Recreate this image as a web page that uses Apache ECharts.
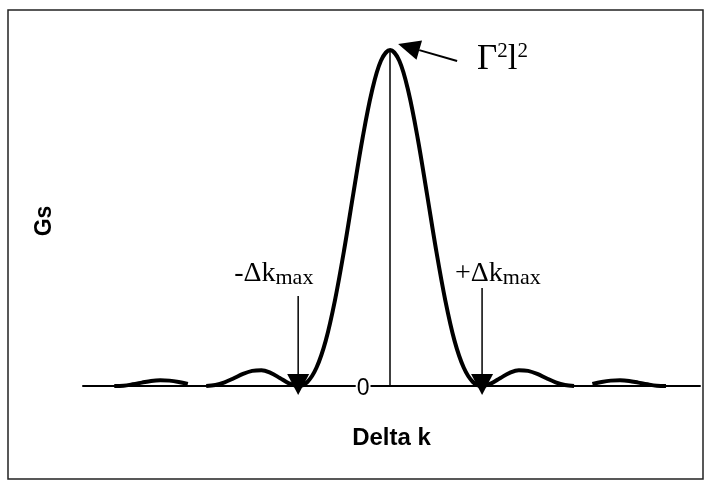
<!DOCTYPE html>
<html>
<head>
<meta charset="utf-8">
<script src="https://cdn.jsdelivr.net/npm/echarts@6/dist/echarts.min.js"></script>
<style>
html,body{margin:0;padding:0;background:#fff;}
#chart{width:709px;height:482px;}
</style>
</head>
<body>
<div id="chart"></div>
<script>
// Delta k (in units of Δk_max) and Gs (normalised to peak Γ²l²)
var deltaK = [-3.0,-2.9,-2.8,-2.7,-2.6,-2.5,-2.4,-2.3,-2.2,-2.1,
              -2.0,-1.9,-1.8,-1.7,-1.6,-1.5,-1.4,-1.3,-1.2,-1.1,
              -1.0,-0.9,-0.8,-0.7,-0.6,-0.5,-0.4,-0.3,-0.2,-0.1,
               0.0,
               0.1, 0.2, 0.3, 0.4, 0.5, 0.6, 0.7, 0.8, 0.9, 1.0,
               1.1, 1.2, 1.3, 1.4, 1.5, 1.6, 1.7, 1.8, 1.9, 2.0,
               2.1, 2.2, 2.3, 2.4, 2.5, 2.6, 2.7, 2.8, 2.9, 3.0];
var gs = [0, 0.001, 0.005, 0.010, 0.015, 0.017, 0.016, 0.012, 0.006, null,
          0, 0.003, 0.011, 0.023, 0.036, 0.045, 0.047, 0.039, 0.024, 0.008,
          0, 0.012, 0.055, 0.135, 0.255, 0.405, 0.573, 0.737, 0.875, 0.968,
          1.0,
          0.968, 0.875, 0.737, 0.573, 0.405, 0.255, 0.135, 0.055, 0.012, 0,
          0.008, 0.024, 0.039, 0.047, 0.045, 0.036, 0.023, 0.011, 0.003, 0,
          null, 0.006, 0.012, 0.016, 0.017, 0.015, 0.010, 0.005, 0.001, 0];
var yTickLabels = ['0'];
var xAxisTitle = 'Delta k';
var yAxisTitle = 'Gs';

var chart = echarts.init(document.getElementById('chart'), null, {renderer: 'canvas'});
var seriesData = deltaK.map(function (x, i) { return [x, gs[i]]; });

var option = {
  backgroundColor: '#ffffff',
  animation: false,
  grid: {left: 83, right: 9, top: 50, bottom: 96},
  xAxis: {
    type: 'value', min: -3.34, max: 3.37,
    axisLine: {show: true, lineStyle: {color: '#000', width: 2}},
    axisTick: {show: false}, axisLabel: {show: false}, splitLine: {show: false},
    name: xAxisTitle, nameLocation: 'middle', nameGap: 40,
    nameTextStyle: {fontFamily: 'Liberation Sans', fontWeight: 'bold', fontSize: 24, color: '#000'}
  },
  yAxis: {
    type: 'value', min: 0, max: 1,
    axisLine: {show: true, onZero: true, lineStyle: {color: '#000', width: 1.5}},
    axisTick: {show: false}, axisLabel: {show: false},
    splitLine: {show: false}
  },
  series: [{
    type: 'line', data: seriesData, showSymbol: false, symbol: 'none',
    smooth: 0.35, connectNulls: false, clip: false,
    lineStyle: {color: '#000', width: 4}, z: 3
  }]
};
chart.setOption(option);

// ---- annotations ----
var mctx = document.createElement('canvas').getContext('2d');
function tw(t, size, fam) { mctx.font = size + 'px "' + fam + '"'; return mctx.measureText(t).width; }
function run(parts, x0, baseline, fam) {
  var els = [], x = x0;
  parts.forEach(function (p) {
    els.push({type: 'text', z: 10, style: {text: p.t, x: x, y: baseline - (p.rise || 0) - 0.36 * p.size,
      font: p.size + 'px "' + fam + '"', fill: '#000', align: 'left', verticalAlign: 'middle'}});
    x += tw(p.t, p.size, fam) + (p.gap || 0);
  });
  return els;
}
function arrow(tail, tip, len, half, lw) {
  var dx = tip[0] - tail[0], dy = tip[1] - tail[1];
  var d = Math.sqrt(dx * dx + dy * dy); dx /= d; dy /= d;
  var bx = tip[0] - dx * len, by = tip[1] - dy * len;
  return [
    {type: 'line', z: 10, shape: {x1: tail[0], y1: tail[1], x2: bx, y2: by}, style: {stroke: '#000', lineWidth: lw}},
    {type: 'polygon', z: 10, shape: {points: [tip, [bx - dy * half, by + dx * half], [bx + dy * half, by - dx * half]]}, style: {fill: '#000'}}
  ];
}
var origin = chart.convertToPixel({gridIndex: 0}, [0, 0]);
var peak = chart.convertToPixel({gridIndex: 0}, [0, 1]);
var zl = chart.convertToPixel({gridIndex: 0}, [-1, 0]);
var zr = chart.convertToPixel({gridIndex: 0}, [1, 0]);
var g = [];
g.push({type: 'rect', z: 0, shape: {x: 8, y: 10, width: 695, height: 469}, style: {fill: 'none', stroke: '#222', lineWidth: 1.5}});
// y-axis tick and "0" label at the origin
g.push({type: 'text', z: 10, style: {text: yTickLabels[0], x: origin[0] - 27, y: origin[1] + 3,
  font: '23px "Liberation Sans Narrow", "Liberation Sans"', fill: '#000', align: 'center', verticalAlign: 'middle',
  backgroundColor: '#fff', padding: [0, 1, 0, 1]}});
g.push({type: 'line', z: 10, shape: {x1: origin[0] - 9, y1: origin[1], x2: origin[0], y2: origin[1]}, style: {stroke: '#000', lineWidth: 1.5}});
g = g.concat(arrow([peak[0] + 67, peak[1] + 11], [peak[0] + 8, peak[1] - 6], 22, 10, 2));
g = g.concat(arrow([zl[0], zl[1] - 90], [zl[0], zl[1] + 9], 21, 11, 1.5));
g = g.concat(arrow([zr[0], zr[1] - 98], [zr[0], zr[1] + 9], 21, 11, 1.5));
g = g.concat(run([{t: 'Γ', size: 35}, {t: '2', size: 21, rise: 13}, {t: 'l', size: 35}, {t: '2', size: 21, rise: 13}], peak[0] + 87, peak[1] + 22, 'Liberation Serif'));
g = g.concat(run([{t: '-Δk', size: 28}, {t: 'max', size: 22, rise: -2}], zl[0] - 64, zl[1] - 102, 'Liberation Serif'));
g = g.concat(run([{t: '+Δk', size: 28}, {t: 'max', size: 22, rise: -2}], zr[0] - 27, zr[1] - 102, 'Liberation Serif'));
g.push({type: 'text', z: 10, rotation: Math.PI / 2, x: 45, y: 221,
  style: {text: yAxisTitle, font: 'bold 23px "Liberation Sans"', fill: '#000', align: 'center', verticalAlign: 'middle'}});
chart.setOption({graphic: g});
</script>
</body>
</html>
